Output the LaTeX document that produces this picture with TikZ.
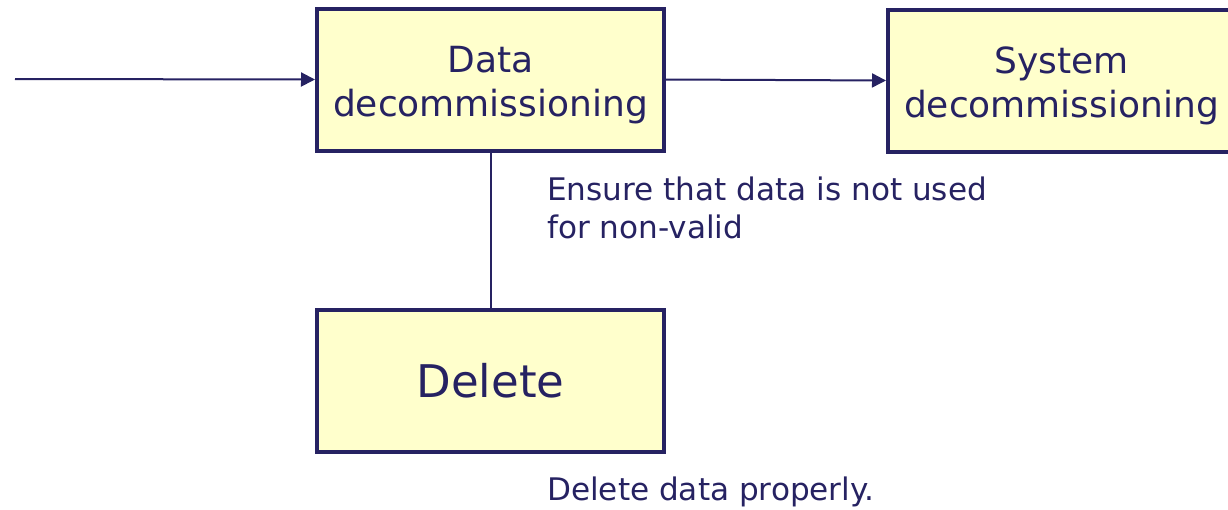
\documentclass[tikz,border=0pt]{standalone}
\usepackage{fontspec}
\setmainfont{DejaVu Sans}
\usetikzlibrary{arrows.meta}
\definecolor{navy}{HTML}{262262}
\definecolor{boxfill}{HTML}{FFFFCC}
\begin{document}
\begin{tikzpicture}[x=1pt,y=-1pt,
  box/.style={draw=navy, fill=boxfill, line width=4pt, minimum width=347pt, minimum height=142pt, inner sep=0pt, text=navy, align=center},
  twoline/.style={font=\fontsize{36}{44.7}\selectfont, text height=74.4pt, text depth=0pt},
  conn/.style={draw=navy, line width=2pt},
  arr/.style={conn, -{Triangle[length=14pt,width=14pt]}},
  note/.style={text=navy, align=left, inner sep=0pt, font=\fontsize{31.1}{38}\selectfont}
]
\useasboundingbox (0,0) rectangle (1228,509);
\clip (0,0) rectangle (1228,509);
\node[box, twoline] (dd) at (490.5,79.5) {Data\\decommissioning};
\node[box, twoline] (sd) at (1061.5,80.5) {System\\decommissioning};
\node[box, font=\fontsize{45}{54}\selectfont] (del) at (490.5,380.5) {Delete};
\coordinate (in) at (15,79);
\draw[arr] (in) -- (dd.west);
\draw[arr] (dd.east) -- (sd.west);
\draw[conn] (dd.south) -- (del.north);
\node[note, anchor=base west] (n1) at (547,238) {Ensure that data is not used\\for non-valid};
\node[note, anchor=base west] (n2) at (547,500) {Delete data properly.};
\end{tikzpicture}
\end{document}
